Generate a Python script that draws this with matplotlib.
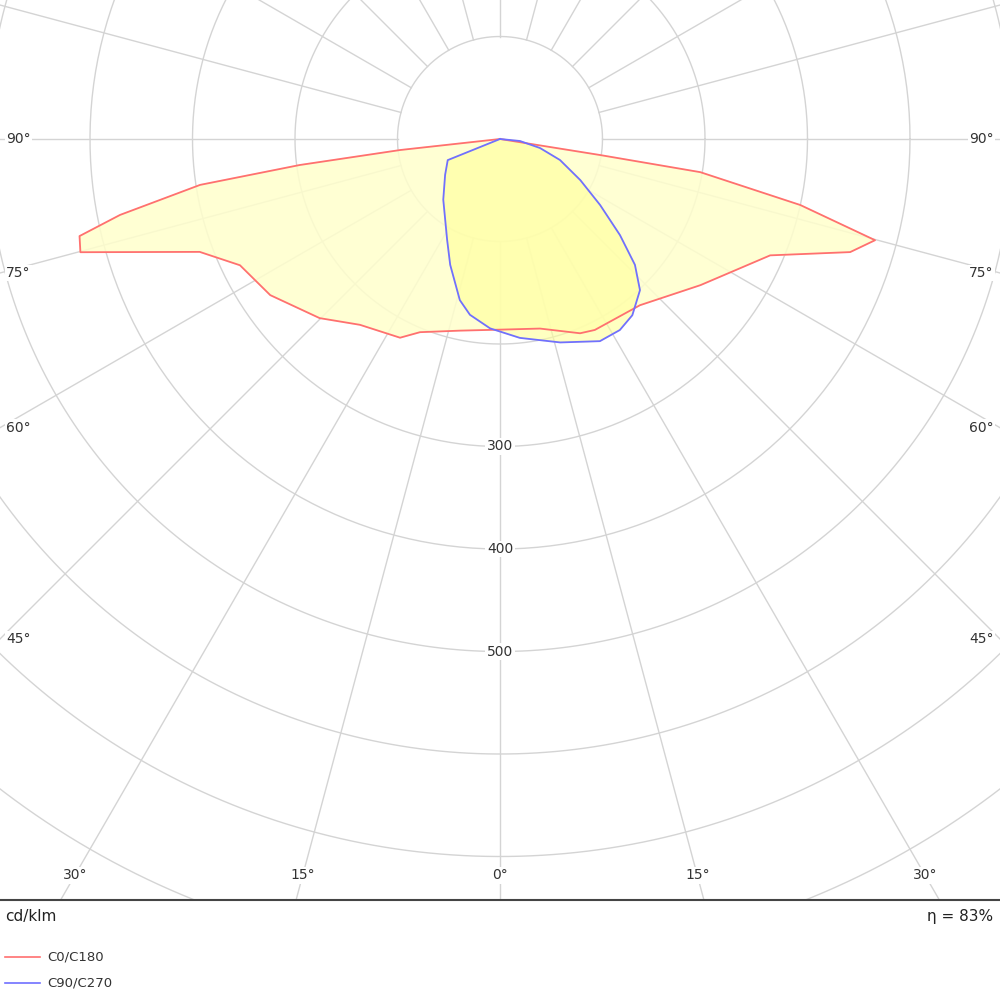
import numpy as np
import matplotlib
matplotlib.use('Agg')
import matplotlib.pyplot as plt

# C0/C180 (negative angle = C180 side), gamma in degrees, intensity cd/klm
c0_gamma = [-90, -83.7, -82.6, -81.3, -78.7, -77, -74.9, -69.4, -64.1, -55.8, -45.2, -37, -26.7,
            -22.5, -11.8, 0, 11.9, 22.4, 26.4, 40.1, 53.9, 66.7, 72.1, 74.9, 77.6, 80.6, 80.9, 90]
c0_int = [0, 98, 197, 296, 378, 421, 424, 313, 282, 271, 248, 227, 217,
          204, 191, 186, 189, 205, 208, 212, 242, 287, 359, 379, 300, 198, 99, 0]
# C90/C270
c90_gamma = [-90, -68, -56.8, -43.1, -27.7, -21.6, -14, -9.7, -3, 5.7, 16.5, 26.3, 32.1,
             36.9, 42.8, 47, 51.3, 56.6, 62.9, 70.7, 77.3, 84.3, 90]
c90_int = [0, 55, 64, 81, 111, 132, 162, 174, 185, 195, 207, 220, 220,
           215, 201, 180, 150, 117, 88, 62, 40, 19.5, 0]

ring_values = list(range(100, 1100, 100))
ring_labels = [300, 400, 500]
angle_labels = [90, 75, 60, 45, 30, 15, 0]


def to_xy(gamma, inten):
    g = np.radians(gamma)
    r = np.array(inten, dtype=float)
    return r * np.sin(g), -r * np.cos(g)


fig = plt.figure(figsize=(10, 10), dpi=100)
ax = fig.add_axes([0, 0.1, 1, 0.9])
sx = 500 / 1.025
ax.set_xlim(-sx, sx)
ax.set_ylim(-761 / 1.025, 139 / 1.025)
ax.set_aspect('equal')
ax.axis('off')

grid = '#d4d4d4'
t = np.linspace(0, 2 * np.pi, 400)
for r in ring_values:
    ax.plot(r * np.cos(t), r * np.sin(t), color=grid, lw=1, zorder=1)
for a in range(0, 360, 15):
    g = np.radians(a)
    ax.plot([100 * np.sin(g), 1500 * np.sin(g)], [-100 * np.cos(g), -1500 * np.cos(g)],
            color=grid, lw=1, zorder=1)

x0, y0 = to_xy(c0_gamma, c0_int)
x9, y9 = to_xy(c90_gamma, c90_int)
ax.fill(x0, y0, color='#ffffcc', alpha=0.85, zorder=2)
ax.fill(x9, y9, color='#ffff99', alpha=0.6, zorder=2)
ax.plot(x0, y0, color='#ff7070', lw=1.3, zorder=3)
ax.plot(x9, y9, color='#7070ff', lw=1.3, zorder=3)

for v in ring_labels:
    ax.text(0, -v, str(v), ha='center', va='center', fontsize=10, color='#333333',
            bbox=dict(facecolor='white', edgecolor='none', pad=1), zorder=4)

ymin = -761 / 1.025 + 24
for a in angle_labels:
    g = np.radians(a)
    if a >= 45:
        yy = -sx / np.tan(g) if a < 90 else 0
        xx = sx - 18
        for s in (-1, 1):
            ax.text(s * xx, yy, f'{a}°', ha='center', va='center', fontsize=10, color='#333333',
                    bbox=dict(facecolor='white', edgecolor='none', pad=1), zorder=4)
    else:
        xx = -ymin * np.tan(g)
        for s in ((-1, 1) if a else (1,)):
            ax.text(s * xx, ymin, f'{a}°', ha='center', va='center', fontsize=10, color='#333333',
                    bbox=dict(facecolor='white', edgecolor='none', pad=1), zorder=4)

fig.add_artist(plt.Line2D([0, 1], [0.1, 0.1], color='#444444', lw=1.5))
fig.text(0.005, 0.083, 'cd/klm', fontsize=11, va='center', color='#222222')
fig.text(0.993, 0.083, 'η = 83%', fontsize=11, va='center', ha='right', color='#222222')
fig.add_artist(plt.Line2D([0.005, 0.04], [0.043, 0.043], color='#ff7070', lw=1.2))
fig.add_artist(plt.Line2D([0.005, 0.04], [0.017, 0.017], color='#7070ff', lw=1.2))
fig.text(0.047, 0.043, 'C0/C180', fontsize=9.5, va='center', color='#333333')
fig.text(0.047, 0.017, 'C90/C270', fontsize=9.5, va='center', color='#333333')

fig.savefig('out.png', dpi=100)
